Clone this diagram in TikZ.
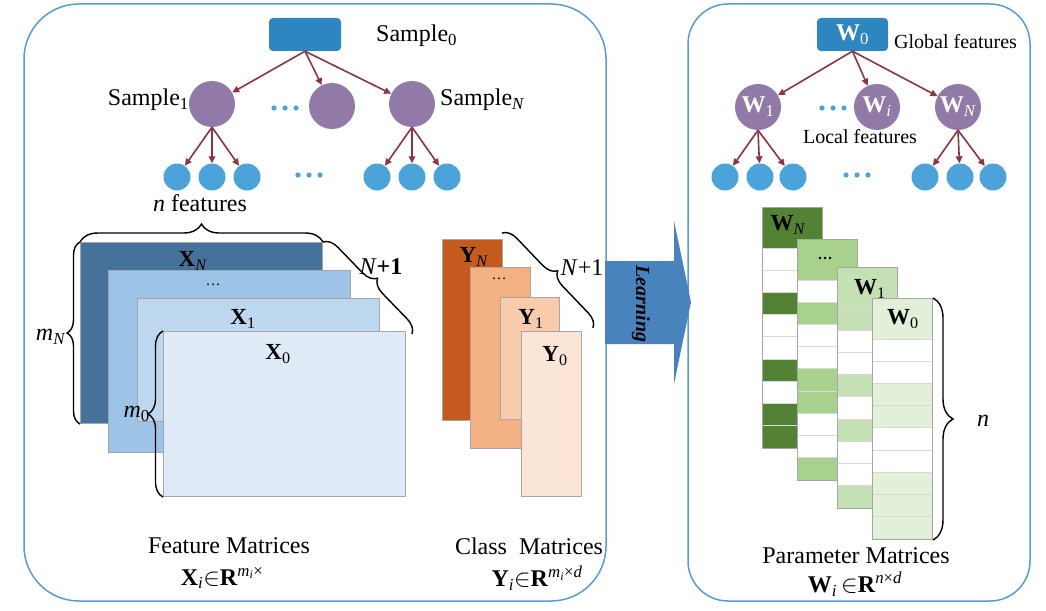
\documentclass[tikz,border=0pt]{standalone}
\usepackage{fontspec}
\setmainfont{Liberation Serif}
\usetikzlibrary{arrows.meta,decorations.pathreplacing,calc}
\definecolor{panelblue}{RGB}{91,155,213}
\definecolor{rootblue}{RGB}{46,134,193}
\definecolor{purp}{RGB}{145,121,168}
\definecolor{leafblue}{RGB}{75,163,217}
\definecolor{arrred}{RGB}{139,52,70}
\definecolor{xN}{RGB}{70,113,155}
\definecolor{xD}{RGB}{157,195,230}
\definecolor{xA}{RGB}{189,215,238}
\definecolor{xZ}{RGB}{222,235,247}
\definecolor{yN}{RGB}{197,90,30}
\definecolor{yD}{RGB}{244,177,131}
\definecolor{yA}{RGB}{248,203,173}
\definecolor{yZ}{RGB}{251,229,214}
\definecolor{wN}{RGB}{84,130,53}
\definecolor{wD}{RGB}{169,209,142}
\definecolor{wA}{RGB}{197,224,180}
\definecolor{wZ}{RGB}{226,240,217}
\definecolor{learnblue}{RGB}{72,131,189}
\definecolor{matline}{RGB}{166,166,166}
\definecolor{rowline}{RGB}{217,217,217}
\newcommand\fs[1]{\fontsize{#1}{#1}\selectfont}
\newcommand\wmat[5]{% left x, top y, colour, row pattern, name
  \fill[white] (#1,#2) rectangle ++(60,241);
  \fill[#3] (#1,#2) rectangle ++(60,41);
  \foreach \v [count=\k] in {#4} {
    \ifnum\v=1 \fill[#3] (#1,{#2+41+(\k-1)*22.222}) rectangle ++(60,22.222); \fi
  }
  \foreach \k in {0,...,8} \draw[rowline, line width=0.8] (#1,{#2+41+\k*22.222}) -- ++(60,0);
  \node[mat, minimum width=60, minimum height=241, anchor=north west] (#5) at (#1,#2) {};
}
\begin{document}
\begin{tikzpicture}[x=1pt,y=-1pt,
  lbl/.style={font=\fs{24}, inner sep=0},
  mlbl/.style={font=\fs{23}, inner sep=0},
  small/.style={font=\fs{20}, inner sep=0},
  panel/.style={draw=panelblue, line width=1.5},
  rootbox/.style={rectangle, rounded corners=4, fill=rootblue, minimum width=72, minimum height=33, inner sep=0},
  midc/.style={circle, fill=purp, minimum size=46, inner sep=0, font=\fs{24}},
  leaf/.style={circle, fill=leafblue, minimum size=27, inner sep=0},
  arr/.style={draw=arrred, line width=1.6, -{Triangle[length=7,width=6.5]}},
  mat/.style={draw=matline, line width=1, inner sep=0},
  mybrace/.style={decorate, decoration={brace, amplitude=#1}, draw=black, line width=1.4},
  mybrace/.default=12,
  dotc/.style={fill=leafblue}
]
\useasboundingbox (0,0) rectangle (1046,610);

% panels
\draw[panel, rounded corners=55] (24,4) rectangle (606,601);
\draw[panel, rounded corners=40] (688,4) rectangle (1030,601);

% learning arrow
\fill[learnblue] (605,261) -- (674,261) -- (674,221) -- (691,302) -- (674,384) -- (674,344) -- (605,344) -- cycle;
\node[rotate=-90, font=\bfseries\itshape\fs{20}, inner sep=0] (learn) at (641,304) {Learning};

% ---------- left tree ----------
\node[rootbox] (r0) at (305,34.5) {};
\node[lbl, anchor=west] (r0l) at (376,36) {Sample\textsubscript{0}};
\node[midc] (s1) at (212,104) {};
\node[midc] (s2) at (332,106) {};
\node[midc] (sN) at (412,104) {};
\node[lbl, anchor=east] (s1l) at (189,100) {Sample\textsubscript{1}};
\node[lbl, anchor=west] (sNl) at (440,100) {Sample\textsubscript{\textit{N}}};
\foreach \n/\x in {l1/177,l2/212,l3/247,l4/377,l5/412,l6/447}
  \node[leaf] (\n) at (\x,177) {};
\draw[arr] (r0.south) -- (s1);
\draw[arr] (r0.south) -- (s2);
\draw[arr] (r0.south) -- (sN);
\foreach \l in {l1,l2,l3} \draw[arr] (s1.south) -- (\l);
\foreach \l in {l4,l5,l6} \draw[arr] (sN.south) -- (\l);
\foreach \x in {274,285,296} \fill[dotc] (\x,108) circle (2.6);
\foreach \x in {298,309,320} \fill[dotc] (\x,175) circle (2.6);

% ---------- right tree ----------
\node[rootbox, minimum width=71, font=\fs{24}, text=white] (w0r) at (852.5,34.5) {\textbf{W}\textsubscript{0}};
\node[small, anchor=west] (gf) at (894,42) {Global features};
\node[midc, text=white] (w1c) at (758,107) {\textbf{W}\textsubscript{1}};
\node[midc, text=white] (wic) at (877,107) {\textbf{W}\textsubscript{\textit{i}}};
\node[midc, text=white] (wNc) at (958,107) {\textbf{W}\textsubscript{\textit{N}}};
\node[small] (lf) at (860,137) {Local features};
\foreach \n/\x in {k1/725,k2/760,k3/793,k4/925,k5/960,k6/993}
  \node[leaf] (\n) at (\x,177) {};
\draw[arr] (w0r.south) -- (w1c);
\draw[arr] (w0r.south) -- (wic);
\draw[arr] (w0r.south) -- (wNc);
\foreach \l in {k1,k2,k3} \draw[arr] (w1c.south) -- (\l);
\foreach \l in {k4,k5,k6} \draw[arr] (wNc.south) -- (\l);
\foreach \x in {822,833,844} \fill[dotc] (\x,108) circle (2.6);
\foreach \x in {846,857,868} \fill[dotc] (\x,175) circle (2.6);

% ---------- X matrices ----------
\node[mat, fill=xN, minimum width=242, minimum height=181, anchor=north west] (XN) at (80,242) {};
\node[mat, fill=xD, minimum width=242, minimum height=182, anchor=north west] (XD) at (108,270) {};
\node[mat, fill=xA, minimum width=242, minimum height=123, anchor=north west] (X1) at (137,298) {};
\node[mat, fill=xZ, minimum width=242, minimum height=165, anchor=north west] (X0) at (163,331) {};
\node[mlbl] (XNl) at (193,261) {\textbf{X}\textsubscript{\textit{N}}};
\node[mlbl] (XDl) at (213,285) {\fs{15}\dots};
\node[mlbl] (X1l) at (243,319) {\textbf{X}\textsubscript{1}};
\node[mlbl] (X0l) at (278,354) {\textbf{X}\textsubscript{0}};
\draw[mybrace=18] (XN.north west) -- (XN.north east);
\node[lbl] (nf) at (200,203) {\textit{n} features};
\draw[mybrace=13] (XN.south west) -- (XN.north west);
\node[lbl, anchor=east] (mN) at (66,337) {\textit{m}\textsubscript{\textit{N}}};
\draw[mybrace=15] (X0.south west) -- (X0.north west);
\node[lbl, anchor=east] (m0) at (150,414) {\textit{m}\textsubscript{0}};
\draw[mybrace=14] (XN.north east) -- (412,334);
\node[lbl] (xn1) at (381,267) {\textit{N}\textbf{+1}};

% ---------- Y matrices ----------
\node[mat, fill=yN, minimum width=60, minimum height=181, anchor=north west] (YN) at (442,239) {};
\node[mat, fill=yD, minimum width=60, minimum height=181, anchor=north west] (YD) at (470,267) {};
\node[mat, fill=yA, minimum width=59, minimum height=122, anchor=north west] (Y1) at (500,297) {};
\node[mat, fill=yZ, minimum width=60, minimum height=165, anchor=north west] (Y0) at (521,331) {};
\node[mlbl] (YNl) at (474,257) {\textbf{Y}\textsubscript{\textit{N}}};
\node[mlbl] (YDl) at (499,279) {\fs{15}\dots};
\node[mlbl] (Y1l) at (531,319) {\textbf{Y}\textsubscript{1}};
\node[mlbl] (Y0l) at (555,356) {\textbf{Y}\textsubscript{0}};
\draw[mybrace=14] (502,233) -- (593,328);
\node[lbl] (yn1) at (582,268) {\textit{N}+1};

% ---------- W matrices ----------
\wmat{762}{207}{wN}{0,0,1,0,0,1,0,1,1}{WN}
\wmat{797}{239}{wD}{0,1,0,0,1,1,0,0,1}{WD}
\wmat{837}{267}{wA}{1,0,0,1,0,1,0,0,1}{W1}
\wmat{872}{298}{wZ}{0,0,1,1,0,0,1,1,1}{W0}
\node[mlbl] (WNl) at (788,225) {\textbf{W}\textsubscript{\textit{N}}};
\node[mlbl] (WDl) at (825,258) {\fs{15}\textbf{\dots}};
\node[mlbl] (W1l) at (870,289) {\textbf{W}\textsubscript{1}};
\node[mlbl] (W0l) at (903,319) {\textbf{W}\textsubscript{0}};
\draw[mybrace=20] (W0.north east) -- (W0.south east);
\node[lbl] (nl) at (983,421) {\textit{n}};

% ---------- captions ----------
\node[lbl] (fm) at (229,546) {Feature Matrices};
\node[lbl] (fmf) at (222,578) {\textbf{X}\textsubscript{\textit{i}}$\in$\textbf{R}\textsuperscript{\textit{m}\textsubscript{\textit{i}}×}};
\node[lbl] (cm) at (529,546) {Class\ \ Matrices};
\node[lbl] (cmf) at (537,578) {\textbf{Y}\textsubscript{\textit{i}}$\in$\textbf{R}\textsuperscript{\textit{m}\textsubscript{\textit{i}}×\textit{d}}};
\node[lbl] (pm) at (856,556) {Parameter Matrices};
\node[lbl] (pmf) at (855,584) {\textbf{W}\textsubscript{\textit{i}}$\,\in$\textbf{R}\textsuperscript{\textit{n}×\textit{d}}};
\end{tikzpicture}
\end{document}
